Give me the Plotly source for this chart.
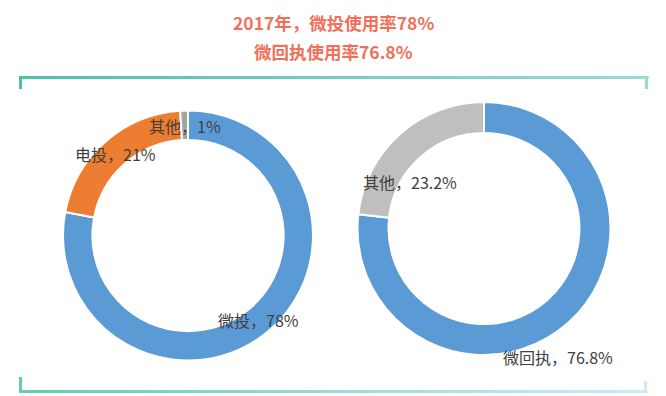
import plotly.graph_objects as go

W, H = 666, 396

# ---- data ----
left_labels = ["微投", "电投", "其他"]
left_values = [78, 21, 1]
right_labels = ["微回执", "其他"]
right_values = [76.8, 23.2]
title_lines = ["2017年，微投使用率78%", "微回执使用率76.8%"]

left_colors = ["#5B9BD5", "#ED7D31", "#A5A5A5"]
right_colors = ["#5B9BD5", "#BFBFBF"]

# label positions (pixels, centre of text)
left_label_pos = [(258, 320), (115, 154), (185, 126)]
right_label_pos = [(558, 357), (410, 182)]


def px(x, y):
    return x / W, 1 - y / H


def fmt(v):
    return f"{v:g}%"


def dom(cx, cy, r):
    return dict(x=[(cx - r) / W, (cx + r) / W], y=[(H - cy - r) / H, (H - cy + r) / H])


fig = go.Figure()
fig.add_trace(go.Pie(
    labels=left_labels, values=left_values, hole=0.765, sort=False,
    direction="clockwise", rotation=0, textinfo="none", hoverinfo="skip",
    marker=dict(colors=left_colors, line=dict(color="white", width=2)),
    domain=dom(188, 235.5, 125), showlegend=False,
))
fig.add_trace(go.Pie(
    labels=right_labels, values=right_values, hole=0.755, sort=False,
    direction="clockwise", rotation=0, textinfo="none", hoverinfo="skip",
    marker=dict(colors=right_colors, line=dict(color="white", width=2)),
    domain=dom(484, 228.5, 126.5), showlegend=False,
))

annotations = []
label_font = dict(size=16, color="#404040", family="Noto Sans CJK SC")
for lab, val, (x, y) in zip(left_labels, left_values, left_label_pos):
    ax, ay = px(x, y)
    annotations.append(dict(x=ax, y=ay, xref="paper", yref="paper", showarrow=False,
                            text=f"{lab}，{fmt(val)}", xanchor="center", yanchor="middle",
                            font=label_font))
for lab, val, (x, y) in zip(right_labels, right_values, right_label_pos):
    ax, ay = px(x, y)
    annotations.append(dict(x=ax, y=ay, xref="paper", yref="paper", showarrow=False,
                            text=f"{lab}，{fmt(val)}", xanchor="center", yanchor="middle",
                            font=label_font))
for line, y in zip(title_lines, [23, 52]):
    ax, ay = px(333, y)
    annotations.append(dict(x=ax, y=ay, xref="paper", yref="paper", showarrow=False,
                            text=f"<b>{line}</b>", xanchor="center", yanchor="middle",
                            font=dict(size=17.5, color="#F0705A", family="Noto Sans CJK SC")))


# ---- gradient frame ----
def hex2rgb(h):
    h = h.lstrip("#")
    return tuple(int(h[i:i + 2], 16) for i in (0, 2, 4))


def lerp(c1, c2, t):
    a, b = hex2rgb(c1), hex2rgb(c2)
    return "rgb(%d,%d,%d)" % tuple(round(a[i] + (b[i] - a[i]) * t) for i in range(3))


shapes = []


def rect(x0, y0, x1, y1, color):
    shapes.append(dict(type="rect", xref="paper", yref="paper",
                       x0=x0 / W, x1=x1 / W, y0=1 - y1 / H, y1=1 - y0 / H,
                       fillcolor=color, line=dict(width=0), layer="below"))


def grad_hline(x0, x1, y0, y1, c1, c2, n=60):
    step = (x1 - x0) / n
    for i in range(n):
        rect(x0 + i * step, y0, x0 + (i + 1) * step + 0.6, y1, lerp(c1, c2, i / (n - 1)))


grad_hline(19, 648, 76, 79, "#4DC2A9", "#9BD9D3")
rect(19, 76, 22, 89, "#4DC2A9")
rect(645, 76, 648, 89, "#9BD9D3")
grad_hline(19, 647, 390, 393, "#63CCB6", "#CBEDF2")
rect(19, 377, 22, 393, "#63CCB6")
rect(644, 381, 647, 393, "#CBEDF2")

fig.update_layout(
    width=W, height=H, margin=dict(l=0, r=0, t=0, b=0),
    paper_bgcolor="white", plot_bgcolor="white",
    annotations=annotations, shapes=shapes, showlegend=False,
)
fig.write_html(
    "out.html",
    config={"displayModeBar": False, "staticPlot": True},
    post_script="document.body.style.margin='0';document.body.style.overflow='hidden';",
)
